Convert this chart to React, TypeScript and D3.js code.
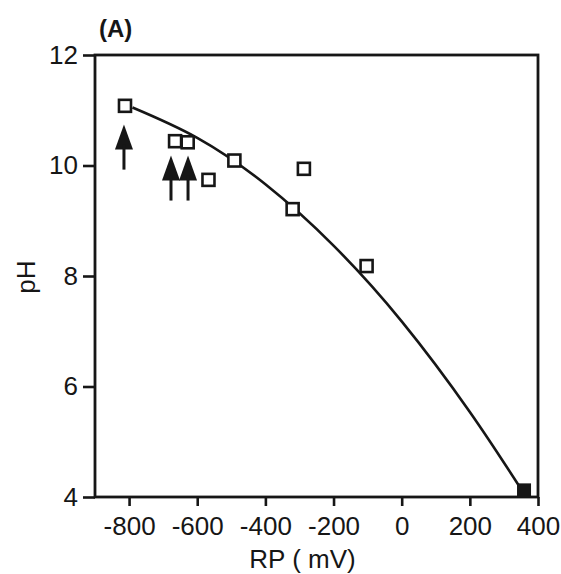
import React, {useEffect, useRef} from 'react'
import * as d3 from 'd3'

// measured points (open squares)
const rpValues = [-812, -665, -628, -567, -491, -287, -320, -103]
const phValues = [11.08, 10.44, 10.42, 9.74, 10.09, 9.94, 9.21, 8.18]

// the filled square at the end of the curve
const endPoint = {rp: 359, ph: 4.12}

// fitted curve
const curveRp = [-790, -600, -400, -200, 0, 200, 355]
const curvePh = [11.05, 10.5, 9.66, 8.55, 7.18, 5.54, 4.1]

// arrows: x position and tip height
const arrowRp = [-815, -677, -627]
const arrowTipPh = [10.74, 10.18, 10.18]

const xTicks = [-800, -600, -400, -200, 0, 200, 400]
const yTicks = [4, 6, 8, 10, 12]

const W = 561
const H = 574
const margin = {top: 55, right: 23, bottom: 77, left: 95}
const font = '"Liberation Sans", Arial, Helvetica, sans-serif'
const ink = '#161616'

const App = () => {
	const ref = useRef<SVGSVGElement>(null)

	useEffect(() => {
		const svg = d3.select(ref.current)
		svg.selectAll('*').remove()

		const x = d3.scaleLinear().domain([-900, 400]).range([margin.left, W - margin.right])
		const y = d3.scaleLinear().domain([4, 12]).range([H - margin.bottom, margin.top])

		// axes (plain hyphen for negatives, as in the original)
		const xAxis = d3.axisBottom(x).tickValues(xTicks).tickSize(9).tickPadding(11)
			.tickFormat((d) => String(d))
		const yAxis = d3.axisLeft(y).tickValues(yTicks).tickSize(12).tickPadding(5)
			.tickFormat((d) => String(d))

		const gx = svg.append('g')
			.attr('transform', `translate(0,${H - margin.bottom})`)
			.call(xAxis)
		const gy = svg.append('g')
			.attr('transform', `translate(${margin.left},0)`)
			.call(yAxis)

		for (const g of [gx, gy]) {
			g.select('.domain').remove()
			g.selectAll('line').attr('stroke', ink).attr('stroke-width', 2.6)
			g.selectAll('text')
				.attr('fill', ink)
				.style('font-family', font)
				.style('font-size', '26px')
		}

		// frame
		svg.append('rect')
			.attr('x', margin.left)
			.attr('y', margin.top)
			.attr('width', W - margin.right - margin.left)
			.attr('height', H - margin.bottom - margin.top)
			.attr('fill', 'none')
			.attr('stroke', ink)
			.attr('stroke-width', 2.8)

		// curve
		const line = d3.line<number>()
			.x((d, i) => x(curveRp[i]))
			.y((d) => y(d))
			.curve(d3.curveNatural)

		svg.append('path')
			.datum(curvePh)
			.attr('d', line)
			.attr('fill', 'none')
			.attr('stroke', ink)
			.attr('stroke-width', 2.6)

		// open squares
		const s = 12
		svg.selectAll('rect.pt')
			.data(rpValues)
			.enter()
			.append('rect')
			.attr('class', 'pt')
			.attr('x', (d) => x(d) - s / 2)
			.attr('y', (d, i) => y(phValues[i]) - s / 2)
			.attr('width', s)
			.attr('height', s)
			.attr('fill', 'white')
			.attr('stroke', ink)
			.attr('stroke-width', 2.6)

		// filled square
		svg.append('rect')
			.attr('x', x(endPoint.rp) - 7)
			.attr('y', y(endPoint.ph) - 7)
			.attr('width', 14)
			.attr('height', 14)
			.attr('fill', ink)

		// arrows
		const arrows = svg.selectAll('g.arrow')
			.data(arrowRp)
			.enter()
			.append('g')
			.attr('class', 'arrow')
			.attr('transform', (d, i) => `translate(${x(d)},${y(arrowTipPh[i])})`)

		arrows.append('path')
			.attr('d', 'M0,0 L9,25 L-9,25 Z')
			.attr('fill', ink)
		arrows.append('line')
			.attr('x1', 0).attr('x2', 0)
			.attr('y1', 20).attr('y2', 45)
			.attr('stroke', ink)
			.attr('stroke-width', 3)

		// labels
		svg.append('text')
			.attr('x', W / 2 + 22)
			.attr('y', 568)
			.attr('text-anchor', 'middle')
			.attr('fill', ink)
			.style('font-family', font)
			.style('font-size', '26px')
			.text('RP ( mV)')

		svg.append('text')
			.attr('transform', 'translate(35,277) rotate(-90)')
			.attr('text-anchor', 'middle')
			.attr('fill', ink)
			.style('font-family', font)
			.style('font-size', '26px')
			.text('pH')

		svg.append('text')
			.attr('x', 99)
			.attr('y', 37)
			.attr('fill', ink)
			.style('font-family', font)
			.style('font-size', '24px')
			.style('font-weight', 'bold')
			.text('(A)')
	}, [])

	return (
		<svg ref={ref} width={W} height={H}
			style={{position: 'absolute', left: 0, top: 0, background: 'white'}} />
	)
}

export default App
